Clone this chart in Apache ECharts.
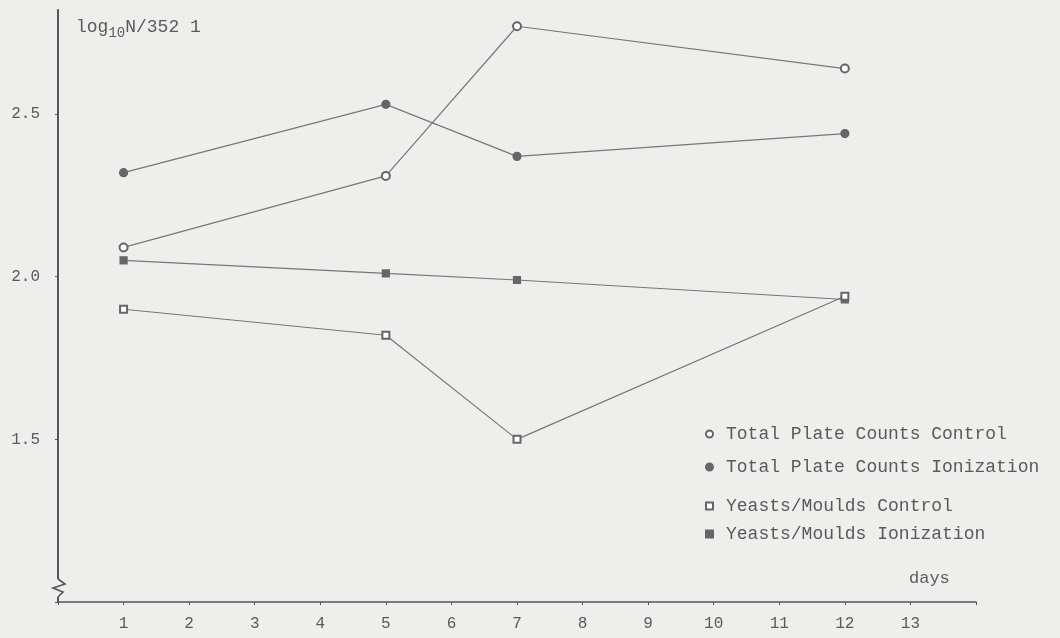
<!DOCTYPE html>
<html>
<head>
<meta charset="utf-8">
<script src="https://cdn.jsdelivr.net/npm/echarts@6/dist/echarts.min.js"></script>
<style>
  html, body { margin: 0; padding: 0; background: #eeeeec; }
  #main { width: 1060px; height: 638px; }
</style>
</head>
<body>
<div id="main"></div>
<script>
// days of storage
const days = [1, 5, 7, 12];
// log10 N values
const tpcControl = [2.09, 2.31, 2.77, 2.64];
const tpcIonization = [2.32, 2.53, 2.37, 2.44];
const ymControl = [1.90, 1.82, 1.50, 1.94];
const ymIonization = [2.05, 2.01, 1.99, 1.93];

const names = [
  "Total Plate Counts Control",
  "Total Plate Counts Ionization",
  "Yeasts/Moulds Control",
  "Yeasts/Moulds Ionization",
];
const symbols = ["emptyCircle", "circle", "emptyRect", "rect"];
const symbolSizes = [8, 8, 7, 7];
const legendTops = [425, 458, 497, 525];

const ink = "#5a5a5a";
const font = "Liberation Mono";

function pairs(vals) {
  return days.map((d, i) => [d, vals[i]]);
}

const allVals = [tpcControl, tpcIonization, ymControl, ymIonization];

const myChart = echarts.init(document.getElementById("main"));

const option = {
  backgroundColor: "#eeeeec",
  animation: false,
  title: [
    {
      text: "log{sub|10}N/352 1",
      left: 76,
      top: 14,
      padding: 0,
      textStyle: {
        fontFamily: font,
        fontSize: 18,
        fontWeight: "normal",
        color: ink,
        rich: {
          sub: { fontFamily: font, fontSize: 14, color: ink, padding: [12, 0, 0, 0] },
        },
      },
    },
    {
      text: "days",
      left: 909,
      top: 570,
      padding: 0,
      textStyle: { fontFamily: font, fontSize: 17, fontWeight: "normal", color: ink },
    },
  ],
  legend: names.map((n, i) => ({
    data: [n],
    left: 705,
    top: legendTops[i],
    padding: 0,
    icon: symbols[i],
    itemWidth: 7,
    itemHeight: 7,
    itemStyle: { color: "#666", borderColor: "#666" },
    textStyle: { fontFamily: font, fontSize: 18, color: ink, padding: [0, 0, 0, 8] },
  })),
  grid: { left: 58, right: 84, top: 10, bottom: 36 },
  xAxis: {
    type: "value",
    min: 0,
    max: 14,
    interval: 1,
    splitLine: { show: false },
    axisLine: { show: true, lineStyle: { color: "#555", width: 1.6 } },
    axisTick: { show: true, length: 3, lineStyle: { color: "#555" } },
    axisLabel: {
      margin: 14,
      fontFamily: font,
      fontSize: 16,
      color: ink,
      formatter: (v) => (v === 0 || v === 14 ? "" : String(v)),
    },
  },
  yAxis: {
    type: "value",
    min: 1.0,
    max: 2.82,
    interval: 0.5,
    splitLine: { show: false },
    axisLine: { show: true, lineStyle: { color: "#555", width: 2 } },
    axisTick: { show: true, length: 3, lineStyle: { color: "#555" } },
    axisLabel: {
      margin: 18,
      fontFamily: font,
      fontSize: 16,
      color: ink,
      padding: [0, 0, 12, 0],
      showMaxLabel: false,
      formatter: (v) => (v < 1.2 ? "" : v.toFixed(1)),
    },
  },
  series: names.map((n, i) => ({
    name: n,
    type: "line",
    data: pairs(allVals[i]),
    symbol: symbols[i],
    symbolSize: symbolSizes[i],
    showAllSymbol: true,
    lineStyle: { color: "#777", width: 1.2 },
    itemStyle: { color: "#666", borderColor: "#666", borderWidth: 1.2 },
    emphasis: { disabled: true },
    z: i === 2 ? 3 : 2,
  })),
};

myChart.setOption(option);

// axis break mark near the bottom of the y axis
const p = myChart.convertToPixel({ gridIndex: 0 }, [0, 1.04]);
myChart.setOption({
  graphic: [
    {
      type: "rect",
      shape: { x: p[0] - 2, y: p[1] - 10, width: 4, height: 18 },
      style: { fill: "#eeeeec" },
      z: 10,
    },
    {
      type: "polyline",
      shape: {
        points: [
          [p[0], p[1] - 10],
          [p[0] + 7, p[1] - 5],
          [p[0] - 5, p[1] - 1],
          [p[0] + 5, p[1] + 3],
          [p[0], p[1] + 8],
        ],
      },
      style: { stroke: "#555", lineWidth: 1.6, fill: null },
      z: 11,
    },
  ],
});
</script>
</body>
</html>
